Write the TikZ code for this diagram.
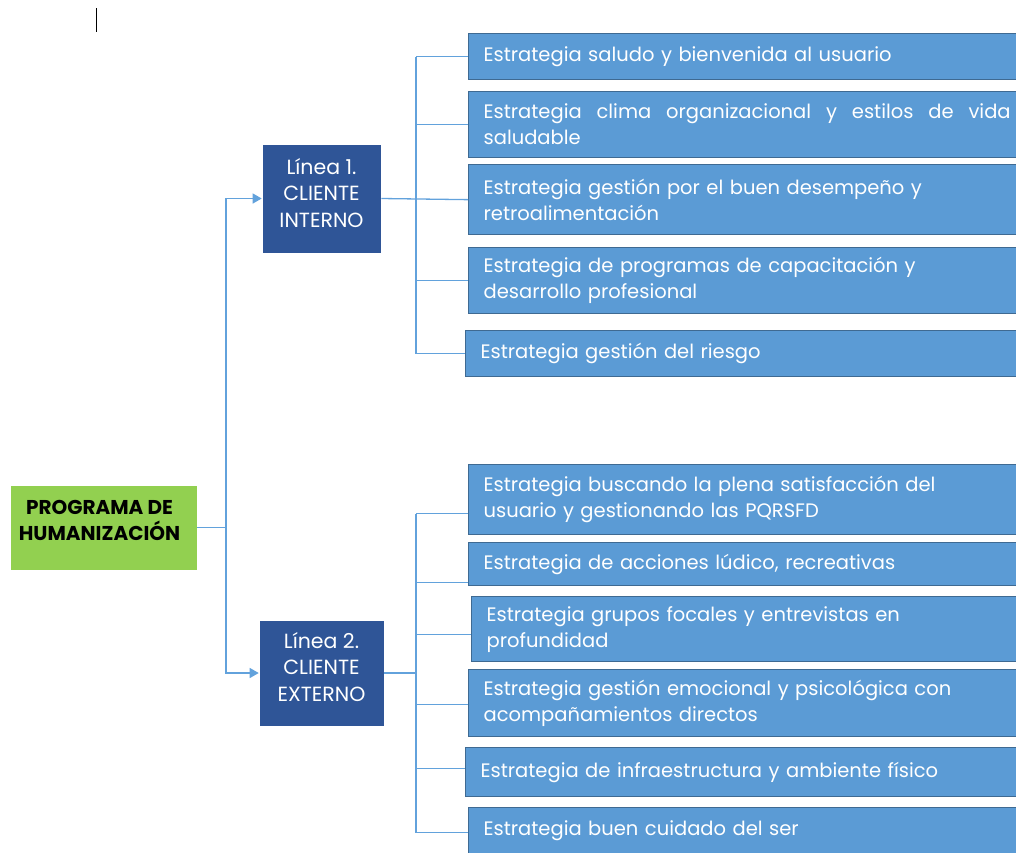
\documentclass[tikz,border=0pt]{standalone}
\usepackage{fontspec}
\setmainfont{Poppins}
\usetikzlibrary{arrows.meta}
\definecolor{stratfill}{HTML}{5B9BD5}
\definecolor{stratedge}{HTML}{3F6A92}
\definecolor{linefill}{HTML}{2F5597}
\definecolor{progfill}{HTML}{92D050}
\definecolor{wire}{HTML}{62A2DC}
\begin{document}
\begin{tikzpicture}[x=1pt,y=-1pt,
  strat/.style={draw=stratedge, line width=1.3pt, fill=stratfill, anchor=north west,
    text width=530pt, inner xsep=15pt, inner ysep=0pt, align=left, text=white,
    font=\fontsize{19.5}{26}\selectfont},
  linebox/.style={fill=linefill, draw=white, line width=0.6pt, inner sep=0pt},
  linetext/.style={text=white, align=center, inner sep=0pt, font=\fontsize{20.5}{26.5}\selectfont},
  progbox/.style={fill=progfill, draw=white, line width=0.6pt, inner sep=0pt},
  progtext/.style={text=black, align=center, inner sep=0pt, font=\fontsize{20}{26}\selectfont\bfseries},
  wire/.style={draw=wire, line width=1.3pt},
  arrowwire/.style={wire, -{Triangle[length=9pt,width=10pt]}}]
\useasboundingbox (0,0) rectangle (1016,852);
\clip (0,0) rectangle (1016,852);

% stray caret mark
\draw[line width=1.3pt] (96.5,8) -- (96.5,32);

% root
\node[progbox, minimum width=187pt, minimum height=85pt] (prog) at (103.5,527.5) {};
\node[progtext] (progt) at (99.5,520) {PROGRAMA DE\\HUMANIZACIÓN};

% lines of action
\node[linebox, minimum width=119pt, minimum height=109pt] (l1) at (321.5,198.5) {};
\node[linetext] (l1t) at (321.5,193) {Línea 1.\\CLIENTE\\INTERNO};
\node[linebox, minimum width=125pt, minimum height=106pt] (l2) at (321.5,673) {};
\node[linetext] (l2t) at (321.5,667) {Línea 2.\\CLIENTE\\EXTERNO};

% strategies, internal client
\node[strat, minimum height=46pt] (s1) at (468,33) {Estrategia saludo y bienvenida al usuario};
\node[strat, minimum height=66pt] (s2) at (468,91) {\hbox to 527pt{Estrategia\hfill clima\hfill organizacional\hfill y\hfill estilos\hfill de\hfill vida}\\saludable};
\node[strat, minimum height=70pt] (s3) at (468,164) {Estrategia gestión por el buen desempeño y\\retroalimentación};
\node[strat, minimum height=66pt] (s4) at (468,247) {Estrategia de programas de capacitación y\\desarrollo profesional};
\node[strat, minimum height=46pt] (s5) at (465,330) {Estrategia gestión del riesgo};

% strategies, external client
\node[strat, minimum height=70pt] (e1) at (468,464) {Estrategia buscando la plena satisfacción del\\usuario y gestionando las PQRSFD};
\node[strat, minimum height=43pt] (e2) at (468,542) {Estrategia de acciones lúdico, recreativas};
\node[strat, minimum height=65pt] (e3) at (471,596) {Estrategia grupos focales y entrevistas en\\profundidad};
\node[strat, minimum height=67pt] (e4) at (468,669) {Estrategia gestión emocional y psicológica con\\acompañamientos directos};
\node[strat, minimum height=49pt] (e5) at (465,747) {Estrategia de infraestructura y ambiente físico};
\node[strat, minimum height=46pt] (e6) at (468,807) {Estrategia buen cuidado del ser};

% root to lines
\coordinate (hub) at (226,527.5);
\draw[wire] (prog.east) -- (hub);
\draw[arrowwire] (hub) |- (l1.west);
\draw[arrowwire] (hub) |- (l2.west);

% internal client tree
\coordinate (t1) at (416,198.5);
\draw[wire] (l1.east) -- (s3.west);
\draw[wire] (t1 |- s1.west) -- (t1 |- s5.west);
\foreach \s in {s1,s2,s4,s5} \draw[wire] (t1 |- \s.west) -- (\s.west);

% external client tree
\coordinate (t2) at (416,673);
\draw[wire] (l2.east) -- (t2);
\coordinate (b1) at ([yshift=-14pt]e1.west);
\coordinate (b2) at ([yshift=-18.5pt]e2.west);
\coordinate (b3) at ([yshift=-5.5pt]e3.west);
\coordinate (b4) at ([yshift=-1.5pt]e4.west);
\coordinate (b5) at ([yshift=3.5pt]e5.west);
\coordinate (b6) at ([yshift=-2pt]e6.west);
\draw[wire] (t2 |- b1) -- (t2 |- b6);
\foreach \b in {b1,b2,b3,b4,b5,b6} \draw[wire] (t2 |- \b) -- (\b);
\end{tikzpicture}
\end{document}
